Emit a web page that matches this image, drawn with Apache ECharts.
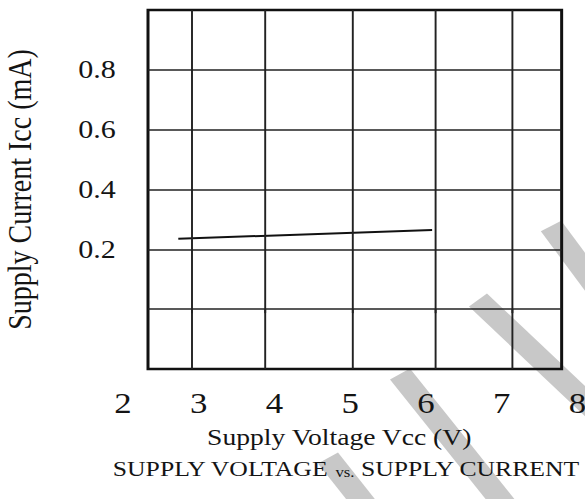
<!DOCTYPE html>
<html>
<head>
<meta charset="utf-8">
<script src="https://cdn.jsdelivr.net/npm/echarts@6/dist/echarts.min.js"></script>
<style>
  html, body { margin: 0; padding: 0; background: #fff; overflow: hidden; }
  #chart { width: 487.5px; height: 499px; transform: scaleX(1.2); transform-origin: 0 0; }
</style>
</head>
<body>
<div id="chart"></div>
<script>
// ---- data ----
const xTickLabels = ['2', '3', '4', '5', '6', '7', '8'];
const yTickLabels = ['0.2', '0.4', '0.6', '0.8'];
const voltage = [2.73, 6.08];        // Supply Voltage Vcc (V)
const current = [0.235, 0.265];      // Supply Current Icc (mA)
const gridXValues = [2.9, 3.88, 5.03, 6.12, 7.13];   // vertical grid lines
const gridYValues = [0, 0.2, 0.4, 0.6, 0.8];         // horizontal grid lines
const frameX = [2.33, 7.79];
const frameY = [-0.2, 1.0];

const FONT = 'Liberation Serif';
const INK = '#141414';

const chart = echarts.init(document.getElementById('chart'), null, { renderer: 'svg' });

const lineData = voltage.map((v, i) => [v, current[i]]);

const markLines = [];
gridXValues.forEach(x => {
  markLines.push([{ coord: [x, frameY[0]] }, { coord: [x, frameY[1]] }]);
});
gridYValues.forEach(y => {
  markLines.push([{ coord: [frameX[0], y] }, { coord: [frameX[1], y] }]);
});

const wm = { stroke: '#c8c8c8', lineWidth: 20, lineCap: 'butt' };

chart.setOption({
  animation: false,
  backgroundColor: '#fff',
  title: {
    text: '{a|SUPPLY VOLTAGE }{b|vs.}{a| SUPPLY CURRENT}',
    left: 89,
    top: 453,
    textStyle: {
      fontWeight: 'normal',
      rich: {
        a: { fontFamily: FONT, fontSize: 21.4, fontWeight: 'normal', color: INK },
        b: { fontFamily: FONT, fontSize: 14, fontWeight: 'normal', color: INK, verticalAlign: 'bottom' }
      }
    }
  },
  graphic: [
    { type: 'line', z: -100, shape: { x1: 459.2, y1: 226, x2: 533.3, y2: 346 }, style: wm, silent: true },
    { type: 'line', z: -100, shape: { x1: 398.3, y1: 300, x2: 533.3, y2: 453 }, style: wm, silent: true },
    { type: 'line', z: -100, shape: { x1: 333.3, y1: 374, x2: 433.3, y2: 524 }, style: wm, silent: true },
    { type: 'line', z: -100, shape: { x1: 273.3, y1: 458, x2: 308.3, y2: 511 }, style: wm, silent: true }
  ],
  grid: { left: 102.5, right: 6.7, top: 10, bottom: 130, containLabel: false, outerBoundsMode: 'none' },
  xAxis: {
    type: 'value',
    min: 2, max: 8, interval: 1,
    axisLine: { show: false },
    axisTick: {
      show: true, inside: false, length: 4,
      customValues: gridXValues,
      lineStyle: { color: '#222', width: 1.6 }
    },
    splitLine: { show: false },
    axisLabel: {
      show: true, showMinLabel: true, showMaxLabel: true,
      margin: 19.5, fontFamily: FONT, fontSize: 29, color: INK,
      formatter: v => {
        const s = String(Math.round(v));
        return xTickLabels.includes(s) ? s : '';
      }
    },
    name: 'Supply Voltage Vcc (V)',
    nameLocation: 'middle',
    nameGap: 56,
    nameTextStyle: { fontFamily: FONT, fontSize: 23, color: INK, padding: [0, 18.4, 0, 0] }
  },
  yAxis: {
    type: 'value',
    min: -0.2, max: 1.0, interval: 0.2,
    axisLine: { show: false },
    axisTick: { show: false },
    splitLine: { show: false },
    axisLabel: {
      margin: 6, fontFamily: FONT, fontSize: 25, color: INK,
      formatter: v => {
        const s = (Math.round(v * 10) / 10).toFixed(1);
        return yTickLabels.includes(s) ? s : '';
      }
    },
    name: 'Supply Current Icc (mA)',
    nameLocation: 'middle',
    nameRotate: 90,
    nameGap: 72,
    nameTextStyle: { fontFamily: FONT, fontSize: 28, color: INK }
  },
  series: [{
    type: 'line',
    data: lineData,
    symbol: 'none',
    clip: false,
    lineStyle: { color: '#111', width: 2 },
    markArea: {
      silent: true,
      itemStyle: { color: 'rgba(0,0,0,0)', borderColor: '#111', borderWidth: 2.5 },
      data: [[{ coord: [frameX[0], frameY[0]] }, { coord: [frameX[1], frameY[1]] }]]
    },
    markLine: {
      silent: true,
      symbol: 'none',
      label: { show: false },
      lineStyle: { color: '#222', width: 1.6, type: 'solid' },
      data: markLines
    }
  }]
});
</script>
</body>
</html>
